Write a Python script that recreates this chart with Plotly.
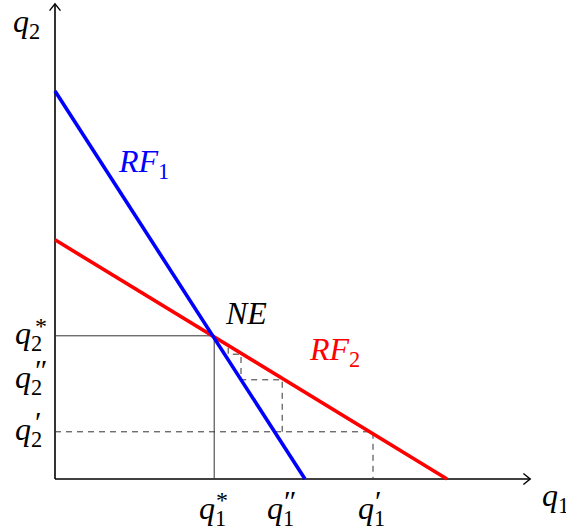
import plotly.graph_objects as go

# reaction functions: end points (quantity units)
rf1_q1 = [0.0, 6.25]
rf1_q2 = [9.7, 0.0]
rf2_q1 = [0.0, 9.8]
rf2_q2 = [5.98, 0.0]

# Nash equilibrium and the adjustment path
q1_star, q2_star = 3.98, 3.58
q1_p, q2_p = 7.95, 1.18
q1_pp, q2_pp = 5.68, 2.48
path_q1 = [q1_pp, q1_pp, 4.65, 4.65, 4.33, 4.33]
path_q2 = [q2_p, q2_pp, q2_pp, 3.12, 3.12, 3.3]

axis_max = 11.88

FONT = "Liberation Serif"
BLUE = "#0000ff"
RED = "#ff0000"

fig = go.Figure()


def line(x, y, color="black", width=1.0, dash=None):
    fig.add_trace(go.Scatter(
        x=x, y=y, mode="lines", hoverinfo="skip", showlegend=False,
        line=dict(color=color, width=width, dash=dash),
    ))


# axes with open arrow tips
line([0, axis_max], [0, 0], width=1.6)
line([0, 0], [0, axis_max], width=1.6)
tip = 0.17
line([axis_max - tip, axis_max, axis_max - tip], [tip * 0.8, 0, -tip * 0.8], width=1.4)
line([-tip * 0.8, 0, tip * 0.8], [axis_max - tip, axis_max, axis_max - tip], width=1.4)

# solid guides to the equilibrium
line([0, q1_star, q1_star], [q2_star, q2_star, 0], color="#333333", width=1.0)

# dashed guides
dash = "6px,5px"
line([0, q1_p, q1_p], [q2_p, q2_p, 0], color="#333333", width=1.0, dash=dash)
line(path_q1, path_q2, color="#333333", width=1.0, dash=dash)

# reaction functions
line(rf2_q1, rf2_q2, color=RED, width=3.6)
line(rf1_q1, rf1_q2, color=BLUE, width=3.6)

SIZE = 32


def text(x, y, s, color="black", size=SIZE, **kw):
    fig.add_annotation(x=x, y=y, xref="x", yref="y", text=s, showarrow=False,
                       font=dict(family=FONT, size=size, color=color), **kw)


def qlabel(x, y, idx, mark, **kw):
    text(x, y, f"<i>q</i><sub>{idx}</sub>", **kw)
    if mark:
        xs = kw.pop("xshift", 0)
        ys = kw.pop("yshift", 0)
        anchor = kw.pop("xanchor", "center")
        dx = {"center": 2, "right": -11}[anchor]
        size = 24 if mark == "*" else 30
        text(x, y, mark, size=size, xshift=xs + dx, yshift=ys + 10,
             xanchor="left", yanchor="middle")


# tick labels on the q1 axis
for v, m in [(q1_star, "*"), (q1_pp, "″"), (q1_p, "′")]:
    qlabel(v, 0, 1, m, xshift=-2, yshift=-31, yanchor="middle")

# tick labels on the q2 axis
for v, m in [(q2_star, "*"), (q2_pp, "″"), (q2_p, "′")]:
    qlabel(0, v, 2, m, xanchor="right", xshift=-11, yanchor="middle")

# axis titles
qlabel(0, axis_max, 2, None, xanchor="right", xshift=-13, yshift=-20, yanchor="middle")
qlabel(axis_max, 0, 1, None, xanchor="left", xshift=10, yshift=-18, yanchor="middle")

# curve labels
text(2.2, 7.9, "<i>RF</i><sub>1</sub>", color=BLUE)
text(6.98, 3.18, "<i>RF</i><sub>2</sub>", color=RED)
text(4.78, 4.15, "<i>NE</i>")

fig.update_layout(
    width=566, height=531,
    margin=dict(l=0, r=0, t=0, b=0),
    paper_bgcolor="white", plot_bgcolor="white",
    xaxis=dict(range=[-1.375, 12.775], visible=False, fixedrange=True),
    yaxis=dict(range=[-1.3, 11.975], visible=False, fixedrange=True),
)

# drop the page's default body margin so the figure fills the window
fig.write_html("out.html", config={"displayModeBar": False},
               post_script="document.body.style.margin='0';")
